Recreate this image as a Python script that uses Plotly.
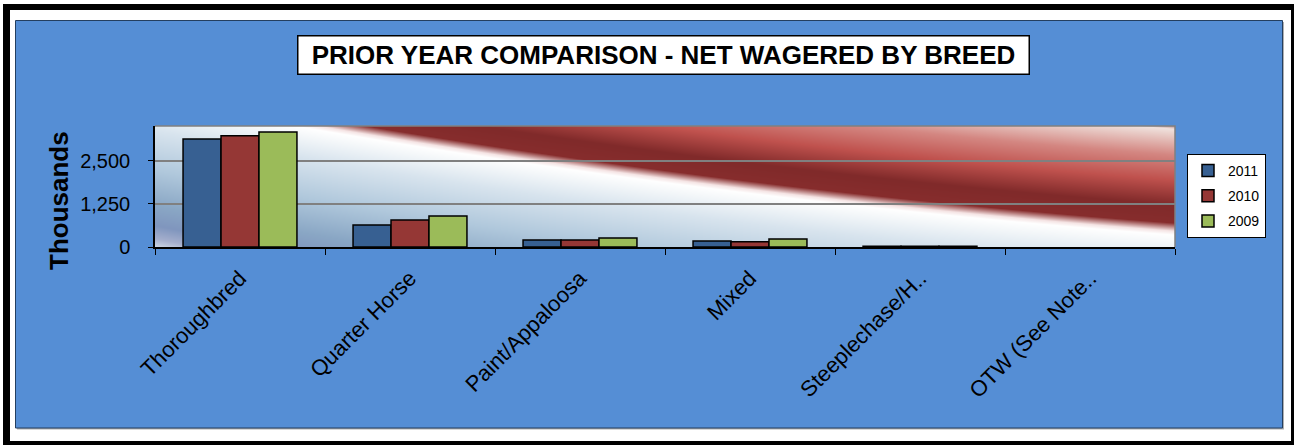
import base64, struct, zlib
import numpy as np
import plotly.graph_objects as go

# ---- data ----
categories = ["Thoroughbred", "Quarter Horse", "Paint/Appaloosa", "Mixed",
              "Steeplechase/H..", "OTW (See Note.."]
years = ["2011", "2010", "2009"]
values_2011 = [3140, 640, 205, 175, 25, 0]
values_2010 = [3230, 785, 205, 150, 25, 0]
values_2009 = [3345, 900, 262, 233, 25, 0]
series_values = [values_2011, values_2010, values_2009]
colors = ["#376092", "#953735", "#9BBB59"]

W, H = 1294, 445
L, R, T, B = 155, 1175, 126, 247  # plot area in pixels
PW, PH = R - L, B - T
FONT = "Liberation Sans, Arial, sans-serif"


def X(px):
    return (px - L) / PW


def Y(py):
    return (B - py) / PH


# ---- background gradient image for plot area ----
def interp_stops(d, stops):
    ds = np.array([s[0] for s in stops], float)
    cols = np.array([s[1] for s in stops], float)
    out = np.zeros(d.shape + (3,))
    for c in range(3):
        out[..., c] = np.interp(d, ds, cols[:, c])
    return out


def make_bg():
    pw, ph = PW, PH
    xs = np.arange(pw)[None, :].repeat(ph, 0).astype(float)
    ys = np.arange(ph)[:, None].repeat(pw, 1).astype(float)
    bx = np.array([145, 345, 725, 1020], float)
    by = np.array([0, 34, 81, 109], float)
    coef = np.polyfit(bx, by, 2)
    f = np.polyval(coef, xs)
    s = ys - f
    red_stops = [(0, (255, 255, 255)), (4, (245, 228, 228)), (12, (135, 45, 45)),
                 (30, (128, 42, 42)), (55, (192, 82, 78)), (80, (212, 135, 130)),
                 (100, (233, 205, 200)), (106, (240, 226, 222)), (112, (140, 60, 60)),
                 (140, (120, 40, 40))]
    blue_stops = [(0, (255, 255, 255)), (8, (245, 248, 250)), (30, (216, 228, 238)),
                  (70, (176, 200, 220)), (105, (138, 167, 197)), (125, (128, 150, 190)),
                  (138, (165, 175, 205)), (150, (222, 231, 238)), (200, (222, 231, 238))]
    red = interp_stops(-s, red_stops)
    blue = interp_stops(s, blue_stops)
    img = np.where((s < 0)[..., None], red, blue)
    return np.clip(img, 0, 255).astype(np.uint8)


def png_uri(arr):
    h, w, _ = arr.shape
    raw = b"".join(b"\x00" + arr[y].tobytes() for y in range(h))

    def chunk(t, data):
        c = struct.pack(">I", len(data)) + t + data
        return c + struct.pack(">I", zlib.crc32(t + data) & 0xFFFFFFFF)

    png = (b"\x89PNG\r\n\x1a\n"
           + chunk(b"IHDR", struct.pack(">IIBBBBB", w, h, 8, 2, 0, 0, 0))
           + chunk(b"IDAT", zlib.compress(raw, 9))
           + chunk(b"IEND", b""))
    return "data:image/png;base64," + base64.b64encode(png).decode()


fig = go.Figure()
for yr, vals, col in zip(years, series_values, colors):
    fig.add_trace(go.Bar(
        x=categories, y=vals, name=yr, legendgroup=yr,
        marker=dict(color=col,
                    line=dict(color="black", width=[1.5 if v > 0 else 0 for v in vals])),
    ))

shapes = [
    dict(type="rect", xref="paper", yref="paper", x0=X(3), x1=X(1300), y0=Y(4), y1=Y(450),
         fillcolor="black", line=dict(width=0), layer="below"),
    dict(type="rect", xref="paper", yref="paper", x0=X(10), x1=X(1291), y0=Y(10), y1=Y(441),
         fillcolor="white", line=dict(width=0), layer="below"),
    dict(type="rect", xref="paper", yref="paper", x0=X(17), x1=X(1284), y0=Y(22), y1=Y(429.5),
         fillcolor="#B0B0B0", line=dict(width=0), layer="below"),
    dict(type="rect", xref="paper", yref="paper", x0=X(15.5), x1=X(1282.5), y0=Y(20.5), y1=Y(428),
         fillcolor="#558ED5", line=dict(color="#243F60", width=1), layer="below"),
    dict(type="path", xref="paper", yref="paper", path="M 0 1 L 1 1 L 1 0",
         line=dict(color="#808080", width=1.5), layer="above"),
]

fig.update_layout(
    width=W, height=H,
    margin=dict(l=L, r=W - R, t=T, b=H - B, pad=0),
    paper_bgcolor="white",
    plot_bgcolor="rgba(0,0,0,0)",
    barmode="group", bargap=0.33, bargroupgap=0,
    font=dict(family=FONT, color="black"),
    shapes=shapes,
    images=[dict(source=png_uri(make_bg()), xref="x domain", yref="y domain",
                 x=0, y=1, sizex=1, sizey=1, xanchor="left", yanchor="top",
                 sizing="stretch", layer="below")],
    legend=dict(x=X(1187), y=Y(154), xanchor="left", yanchor="top",
                bgcolor="white", bordercolor="black", borderwidth=1,
                font=dict(family=FONT, size=14, color="black"),
                tracegroupgap=4, itemwidth=30),
    showlegend=True,
    annotations=[
        dict(text="<b>PRIOR YEAR COMPARISON - NET WAGERED BY BREED</b>",
             xref="paper", yref="paper", x=X(663), y=Y(54.5),
             xanchor="center", yanchor="middle", showarrow=False,
             font=dict(family=FONT, size=26, color="black"),
             bgcolor="white", bordercolor="black", borderwidth=1.5, borderpad=4,
             width=722, height=29),
        dict(text="<b>Thousands</b>", xref="paper", yref="paper",
             x=X(59), y=Y(201), xanchor="center", yanchor="middle",
             textangle=-90, showarrow=False,
             font=dict(family=FONT, size=26, color="black")),
    ],
)

fig.update_xaxes(
    type="category", showline=True, linecolor="black", linewidth=1.5,
    ticks="outside", tickson="boundaries", ticklen=6, tickcolor="black", tickwidth=1,
    tickangle=-45, tickfont=dict(family=FONT, size=22, color="black"),
    ticklabelstandoff=8,
    showgrid=False, zeroline=False,
)
fig.update_yaxes(
    range=[0, 3517], tickvals=[0, 1250, 2500], tickformat=",d",
    showline=True, linecolor="black", linewidth=1.5,
    ticks="outside", ticklen=5, tickcolor="black", tickwidth=1, ticklabelstandoff=14,
    tickfont=dict(family=FONT, size=20, color="black"),
    showgrid=True, gridcolor="#808080", gridwidth=1.5, zeroline=False,
)

fig.write_html("out.html", config={"displayModeBar": False},
               post_script="document.body.style.margin='0';document.body.style.overflow='hidden';")
